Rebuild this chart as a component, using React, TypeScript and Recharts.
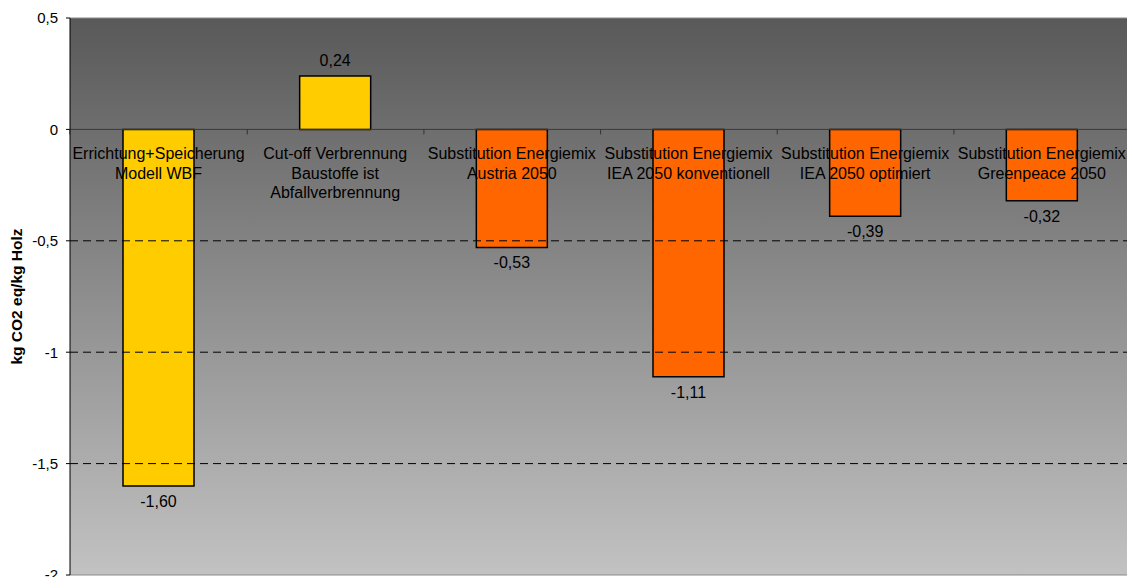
import { BarChart, Bar, XAxis, YAxis, CartesianGrid, ReferenceLine, LabelList, Cell } from "recharts";

const categories = [
  "Errichtung+Speicherung\nModell WBF",
  "Cut-off Verbrennung\nBaustoffe ist\nAbfallverbrennung",
  "Substitution Energiemix\nAustria 2050",
  "Substitution Energiemix\nIEA 2050 konventionell",
  "Substitution Energiemix\nIEA 2050 optimiert",
  "Substitution Energiemix\nGreenpeace 2050",
];
const values = [-1.6, 0.24, -0.53, -1.11, -0.39, -0.32];
const scenarioGroup = ["bau", "bau", "substitution", "substitution", "substitution", "substitution"];
const yTicks = [-2, -1.5, -1, -0.5, 0, 0.5];
const dashedLines = [-1.5, -1, -0.5];
const yTitle = "kg CO2 eq/kg Holz";

const data = categories.map((name, i) => ({ name, value: values[i], group: scenarioGroup[i] }));

const groupColor: Record<string, string> = { bau: "#ffcc00", substitution: "#ff6600" };
const FONT = "'Liberation Sans', Arial, sans-serif";

const fmt = (v: number) => v.toFixed(2).replace(".", ",");

function box(props: any) {
  const vb = props.viewBox ?? props;
  const y1 = Math.min(vb.y, vb.y + vb.height);
  const y2 = Math.max(vb.y, vb.y + vb.height);
  return { x: vb.x, w: vb.width, top: y1, bottom: y2 };
}

function CategoryLabel(props: any) {
  const { x, w, top, bottom } = box(props);
  const v = values[props.index] ?? 0;
  const zeroY = v >= 0 ? bottom : top;
  const cx = x + w / 2;
  const lines = String(props.value).split("\n");
  const band = w / 0.4;
  return (
    <g>
      <line x1={cx + band / 2} x2={cx + band / 2} y1={zeroY} y2={zeroY + 5} stroke="#333" />
      {props.index === 0 && <line x1={cx - band / 2} x2={cx - band / 2} y1={zeroY} y2={zeroY + 5} stroke="#333" />}
      <text textAnchor="middle" fontFamily={FONT} fontSize={16} fill="#000">
        {lines.map((l, i) => (
          <tspan key={i} x={cx} y={zeroY + 30 + i * 19.5}>
            {l}
          </tspan>
        ))}
      </text>
    </g>
  );
}

function ValueLabel(props: any) {
  const { x, w, top, bottom } = box(props);
  const v = Number(props.value);
  const cx = x + w / 2;
  const y = v >= 0 ? top - 10 : bottom + 21;
  return (
    <text x={cx} y={y} textAnchor="middle" fontFamily={FONT} fontSize={16} fill="#000">
      {fmt(v)}
    </text>
  );
}

export default function App() {
  return (
    <div style={{ position: "fixed", left: 0, top: 0, width: 1127, height: 577, overflow: "hidden", background: "#fff" }}>
      <BarChart
        width={1135}
        height={577}
        data={data}
        margin={{ top: 18, right: 5, bottom: 2, left: 0 }}
        barCategoryGap="30%"
      >
        <defs>
          <linearGradient id="plotBg" x1="0" y1="0" x2="0" y2="1">
            <stop offset="0%" stopColor="#595959" />
            <stop offset="100%" stopColor="#c2c2c2" />
          </linearGradient>
        </defs>
        <CartesianGrid fill="url(#plotBg)" fillOpacity={1} horizontal={false} vertical={false} stroke="none" />
        <XAxis dataKey="name" hide />
        <YAxis
          width={70}
          domain={[-2, 0.5]}
          ticks={yTicks}
          interval={0}
          tickFormatter={(v: number) => String(v).replace(".", ",")}
          tick={{ fontFamily: FONT, fontSize: 15, fill: "#000" }}
          tickSize={4}
          tickMargin={8}
          axisLine={{ stroke: "#000" }}
          tickLine={{ stroke: "#000" }}
          label={{
            content: (p: any) => {
              const vb = p.viewBox;
              const cx = vb.x + 16;
              const cy = vb.y + vb.height / 2;
              return (
                <text
                  x={cx}
                  y={cy}
                  transform={`rotate(-90 ${cx} ${cy})`}
                  textAnchor="middle"
                  dominantBaseline="central"
                  fontFamily={FONT}
                  fontWeight="bold"
                  fontSize={15.5}
                  fill="#000"
                >
                  {yTitle}
                </text>
              );
            },
          }}
        />
        <ReferenceLine y={0.5} stroke="#8a8a8a" />
        <ReferenceLine y={-2} stroke="#8a8a8a" />
        {dashedLines.map((v) => (
          <ReferenceLine key={v} y={v} stroke="#000" strokeDasharray="8 5" />
        ))}
        <ReferenceLine y={0} stroke="#3a3a3a" />
        <Bar dataKey="value" stroke="#000" strokeWidth={1.5} isAnimationActive={false}>
          {data.map((d, i) => (
            <Cell key={i} fill={groupColor[d.group]} />
          ))}
          <LabelList dataKey="name" content={<CategoryLabel />} />
          <LabelList dataKey="value" content={<ValueLabel />} />
        </Bar>
      </BarChart>
    </div>
  );
}
